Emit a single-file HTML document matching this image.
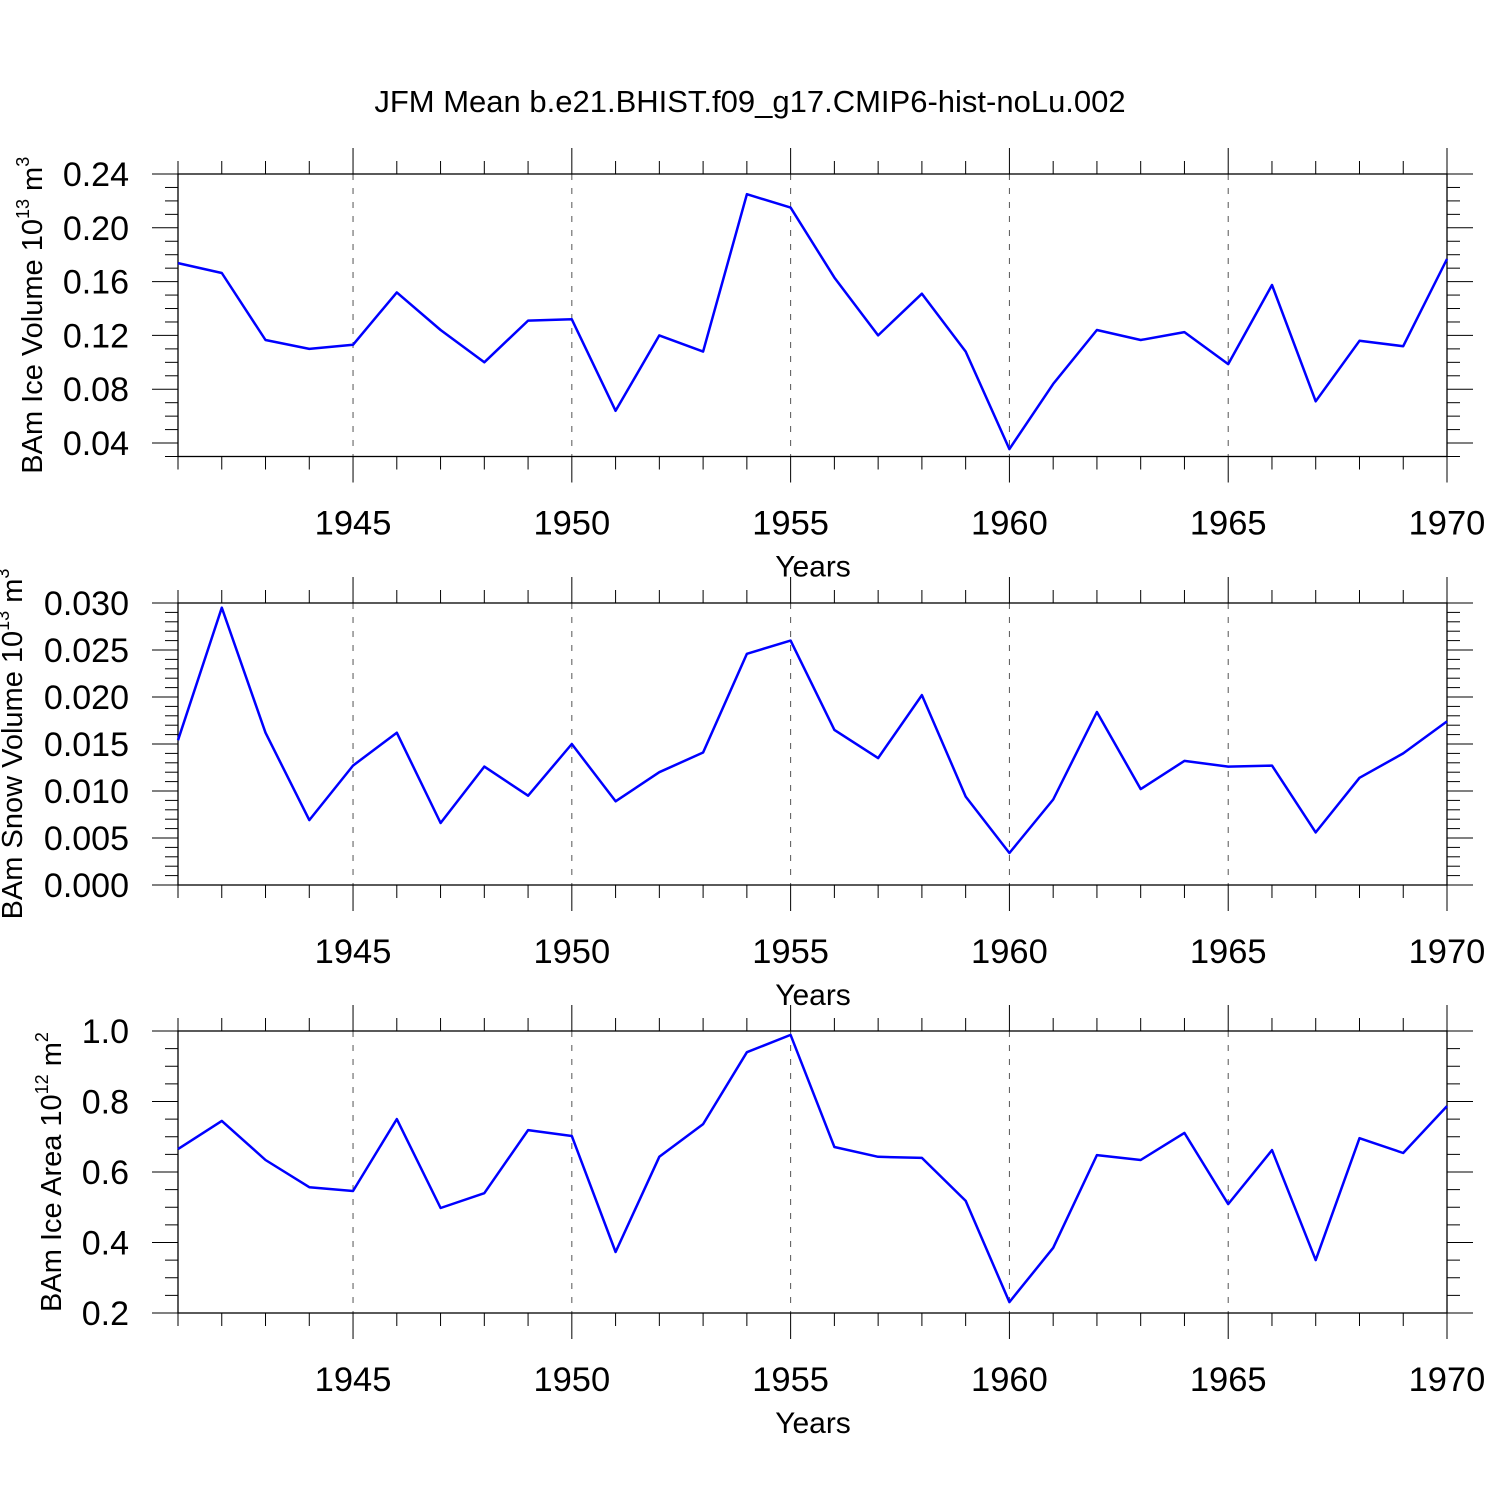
<!DOCTYPE html>
<html><head><meta charset="utf-8"><style>
html,body{margin:0;padding:0;background:#fff}
svg{display:block;font-family:"Liberation Sans",Arial,sans-serif}
</style></head><body>
<svg id="chart" width="1500" height="1500" viewBox="0 0 1500 1500">
<text x="750" y="112" font-size="31" text-anchor="middle">JFM Mean b.e21.BHIST.f09_g17.CMIP6-hist-noLu.002</text>
</svg>
<script>
const years = [1941,1942,1943,1944,1945,1946,1947,1948,1949,1950,1951,1952,1953,1954,1955,1956,1957,1958,1959,1960,1961,1962,1963,1964,1965,1966,1967,1968,1969,1970];
const iceVolume = [0.1738,0.1664,0.1166,0.110,0.113,0.152,0.124,0.100,0.131,0.132,0.064,0.120,0.108,0.225,0.215,0.163,0.120,0.151,0.108,0.0355,0.084,0.124,0.1166,0.1225,0.0987,0.1575,0.071,0.116,0.112,0.1768];
const snowVolume = [0.0154,0.0295,0.0162,0.0069,0.0127,0.0162,0.0066,0.0126,0.0095,0.0150,0.0089,0.0120,0.0141,0.0246,0.0260,0.0165,0.0135,0.0202,0.0094,0.0034,0.0091,0.0184,0.0102,0.0132,0.0126,0.0127,0.0056,0.0114,0.0140,0.0174];
const iceArea = [0.665,0.745,0.634,0.557,0.546,0.750,0.498,0.540,0.719,0.702,0.373,0.643,0.736,0.940,0.989,0.671,0.643,0.640,0.518,0.231,0.385,0.648,0.634,0.711,0.509,0.662,0.350,0.696,0.654,0.787];
const xTickLabels = ["1945","1950","1955","1960","1965","1970"];
const iceVolTicks = ["0.04","0.08","0.12","0.16","0.20","0.24"];
const snowVolTicks = ["0.000","0.005","0.010","0.015","0.020","0.025","0.030"];
const iceAreaTicks = ["0.2","0.4","0.6","0.8","1.0"];

const svg = document.getElementById('chart');
const NS = 'http://www.w3.org/2000/svg';
function mk(tag, attrs, parent){const e=document.createElementNS(NS,tag);for(const k in attrs)e.setAttribute(k,attrs[k]);(parent||svg).appendChild(e);return e;}
const X0=178,X1=1447,XMIN=1941,XMAX=1970;
function xs(v){return X0+(v-XMIN)/(XMAX-XMIN)*(X1-X0);}

const panels=[
 {name:'ice-volume',data:iceVolume,ticks:iceVolTicks,top:174,bot:456.5,ymin:0.03,ymax:0.24,minor:0.01,titleX:42,title:['BAm Ice Volume 10','13',' m','3']},
 {name:'snow-volume',data:snowVolume,ticks:snowVolTicks,top:603,bot:885,ymin:0,ymax:0.03,minor:0.001,titleX:22,title:['BAm Snow Volume 10','13',' m','3']},
 {name:'ice-area',data:iceArea,ticks:iceAreaTicks,top:1031,bot:1313,ymin:0.2,ymax:1.0,minor:0.05,titleX:61,title:['BAm Ice Area 10','12',' m','2']}
];
panels.forEach(p=>{
 const g=mk('g',{});
 
 
 const ys=v=>p.bot-(v-p.ymin)/(p.ymax-p.ymin)*(p.bot-p.top);
 for(let yr=1945;yr<1970;yr+=5){
  const l=mk('line',{x1:xs(yr),x2:xs(yr),y1:p.top,y2:p.bot,stroke:'#555','stroke-width':1,'stroke-dasharray':'6,8'},g);
  
  
 }
 for(let yr=XMIN;yr<=XMAX;yr++){
  const major=yr%5===0, len=major?26:13, x=xs(yr);
  mk('line',{x1:x,x2:x,y1:p.top-len,y2:p.top,stroke:'#000','stroke-width':1},g);
  mk('line',{x1:x,x2:x,y1:p.bot,y2:p.bot+len,stroke:'#000','stroke-width':1},g);
 }
 const nMin=Math.round((p.ymax-p.ymin)/p.minor);
 const majors=p.ticks.map(Number);
 for(let i=0;i<=nMin;i++){
  const v=p.ymin+i*p.minor, y=ys(v);
  const major=majors.some(m=>Math.abs(m-v)<1e-9), len=major?26:13;
  mk('line',{x1:X0-len,x2:X0,y1:y,y2:y,stroke:'#000','stroke-width':1},g);
  mk('line',{x1:X1,x2:X1+len,y1:y,y2:y,stroke:'#000','stroke-width':1},g);
 }
 p.ticks.forEach(t=>{
  const tx=mk('text',{x:129,y:ys(Number(t))+12,'font-size':34,'text-anchor':'end'},g);
  tx.textContent=t;
  
  
 });
 xTickLabels.forEach(t=>{
  const tx=mk('text',{x:xs(Number(t)),y:p.bot+78,'font-size':34.5,'text-anchor':'middle'},g);
  tx.textContent=t;
  
  
 });
 const xt=mk('text',{x:813,y:p.bot+120,'font-size':30,'text-anchor':'middle'},g);
 xt.textContent='Years';
 
 
 const cy=(p.top+p.bot)/2;
 const yt=mk('text',{x:p.titleX,y:cy,'font-size':29,'text-anchor':'middle',transform:`rotate(-90 ${p.titleX} ${cy})`},g);
 
 
 const parts=p.title;
 const a=mk('tspan',{},yt);a.textContent=parts[0];
 const b=mk('tspan',{dy:-13,'font-size':18},yt);b.textContent=parts[1];
 const c=mk('tspan',{dy:13},yt);c.textContent=parts[2];
 const d=mk('tspan',{dy:-13,'font-size':18},yt);d.textContent=parts[3];
 const fr=mk('rect',{x:X0,y:p.top,width:X1-X0,height:p.bot-p.top,fill:'none',stroke:'#000','stroke-width':1.3},g);
 
 
 const pts=p.data.map((v,i)=>xs(years[i]).toFixed(1)+','+ys(v).toFixed(1)).join(' ');
 const pl=mk('polyline',{points:pts,fill:'none',stroke:'#0000ff','stroke-width':2.5,'stroke-linejoin':'round'},g);
 
 
});
</script>
</body></html>
